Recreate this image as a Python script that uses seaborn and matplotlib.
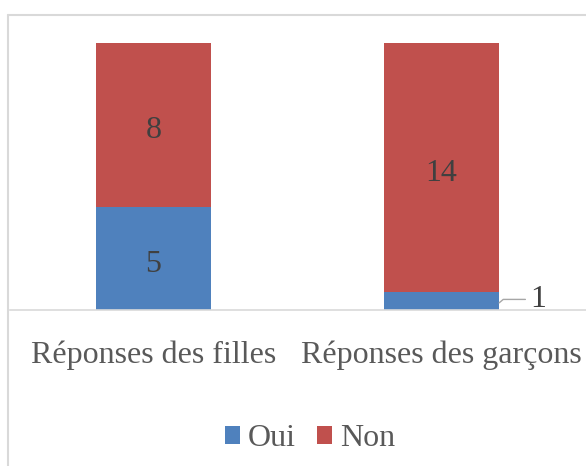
import matplotlib
matplotlib.use("Agg")
import matplotlib.pyplot as plt
import seaborn as sns
import pandas as pd
from matplotlib.lines import Line2D
from matplotlib.patches import Patch

# data (100 % stacked columns)
categories = ["Réponses des filles", "Réponses des garçons"]
oui = [5, 1]
non = [8, 14]
series = ["Oui", "Non"]
colors = ["#4F81BD", "#C0504D"]

df = pd.DataFrame({"categorie": categories, "Oui": oui, "Non": non})
df["total"] = df["Oui"] + df["Non"]
df["part_oui"] = df["Oui"] / df["total"]
df["part_cumul"] = (df["Oui"] + df["Non"]) / df["total"]

sns.set_style("white")
plt.rcParams["font.family"] = ["Liberation Serif", "DejaVu Serif"]

fig = plt.figure(figsize=(5.86, 4.66), dpi=100)
ax = fig.add_axes([9.5 / 586, 156 / 466, 576 / 586, 267 / 466])

# Non on top of Oui: draw the cumulative bar first, then Oui over it
sns.barplot(data=df, x="categorie", y="part_cumul", color=colors[1], width=0.4,
            saturation=1, errorbar=None, linewidth=0, ax=ax)
sns.barplot(data=df, x="categorie", y="part_oui", color=colors[0], width=0.4,
            saturation=1, errorbar=None, linewidth=0, ax=ax)

ax.set_ylim(0, 1)
ax.set_xlim(-0.5, 1.5)
ax.set_yticks([])
ax.set_xlabel("")
ax.set_ylabel("")
for s in ["top", "right", "left"]:
    ax.spines[s].set_visible(False)
ax.spines["bottom"].set_color("#D9D9D9")
ax.spines["bottom"].set_linewidth(1.2)
ax.tick_params(axis="x", length=0, pad=22, labelsize=23, labelcolor="#595959")

# data labels
lab_kw = dict(fontsize=23, color="#404040", ha="center", va="center",
              textcoords="offset points")
for i, row in df.iterrows():
    p_oui = row["part_oui"]
    p_non = 1 - p_oui
    if p_oui >= 0.1:
        ax.annotate(str(row["Oui"]), xy=(i, p_oui / 2), xytext=(0, -4), **lab_kw)
    else:
        # small segment: label outside with a leader line
        ax.annotate(str(row["Oui"]), xy=(i + 0.2, p_oui * 0.4), xytext=(28, 2.5), **lab_kw,
                    arrowprops=dict(arrowstyle="-", color="#A6A6A6", lw=1,
                                    shrinkA=1, shrinkB=0,
                                    connectionstyle="angle,angleA=0,angleB=40,rad=0"))
    ax.annotate(str(row["Non"]), xy=(i, p_oui + p_non / 2), xytext=(0, -4), **lab_kw)

# legend
handles = [Patch(facecolor=c, edgecolor="none") for c in colors]
fig.legend(handles, series, loc="center", bbox_to_anchor=(310 / 586, 1 - 439 / 466),
           ncol=2, frameon=False, fontsize=23, labelcolor="#595959",
           handlelength=0.47, handleheight=0.47, handletextpad=0.25,
           columnspacing=0.65)

# chart area border (cropped on the right and bottom)
fig.add_artist(Line2D([8 / 586, 8 / 586], [0, 1 - 15 / 466], transform=fig.transFigure,
                      color="#D9D9D9", lw=1.5))
fig.add_artist(Line2D([8 / 586, 1], [1 - 15 / 466, 1 - 15 / 466], transform=fig.transFigure,
                      color="#D9D9D9", lw=1.5))

fig.savefig("out.png", dpi=100, facecolor="white")
